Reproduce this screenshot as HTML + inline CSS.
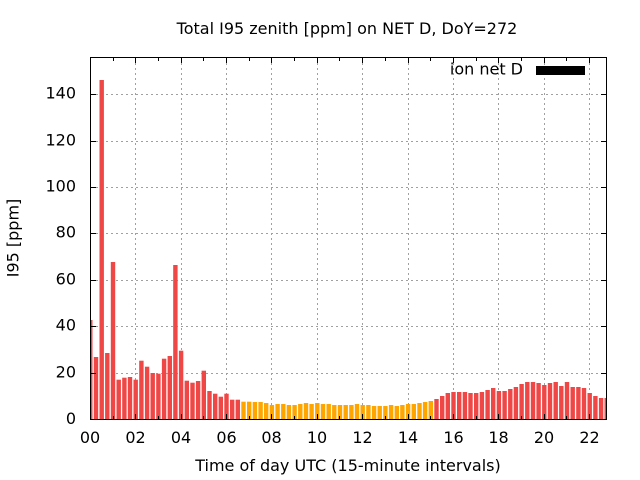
<!DOCTYPE html>
<html>
<head>
<meta charset="utf-8">
<style>
html,body{margin:0;padding:0;background:#fff;}
svg{display:block;}
text{font-family:"DejaVu Sans","Liberation Sans",sans-serif;font-size:16px;fill:#000;}
</style>
</head>
<body>
<svg width="640" height="480" viewBox="0 0 640 480" xmlns="http://www.w3.org/2000/svg">
<defs>
<clipPath id="pc"><rect x="91" y="57" width="515" height="363"/></clipPath>
</defs>
<rect width="640" height="480" fill="#fff"/>
<!-- grid -->
<g stroke="#a0a0a0" stroke-width="1" stroke-dasharray="2,3" fill="none">
<line x1="91" y1="373.5" x2="606" y2="373.5"/>
<line x1="91" y1="326.5" x2="606" y2="326.5"/>
<line x1="91" y1="280.5" x2="606" y2="280.5"/>
<line x1="91" y1="233.5" x2="606" y2="233.5"/>
<line x1="91" y1="187.5" x2="606" y2="187.5"/>
<line x1="91" y1="141.5" x2="606" y2="141.5"/>
<line x1="91" y1="94.5" x2="606" y2="94.5"/>
<line x1="135.5" y1="58" x2="135.5" y2="419"/>
<line x1="181.5" y1="58" x2="181.5" y2="419"/>
<line x1="226.5" y1="58" x2="226.5" y2="419"/>
<line x1="271.5" y1="58" x2="271.5" y2="419"/>
<line x1="317.5" y1="58" x2="317.5" y2="419"/>
<line x1="362.5" y1="58" x2="362.5" y2="419"/>
<line x1="408.5" y1="58" x2="408.5" y2="419"/>
<line x1="453.5" y1="58" x2="453.5" y2="419"/>
<line x1="498.5" y1="58" x2="498.5" y2="419"/>
<line x1="544.5" y1="58" x2="544.5" y2="419"/>
<line x1="589.5" y1="58" x2="589.5" y2="419"/>
</g>
<!-- bars -->
<g clip-path="url(#pc)">
<g fill="#ef4646">
<rect x="88.1" y="320" width="4.4" height="99.5"/>
<rect x="93.8" y="357" width="4.4" height="62.5"/>
<rect x="99.5" y="80" width="4.4" height="339.5"/>
<rect x="105.1" y="353" width="4.4" height="66.5"/>
<rect x="110.8" y="262" width="4.4" height="157.5"/>
<rect x="116.5" y="379.7" width="4.4" height="39.8"/>
<rect x="122.2" y="377.7" width="4.4" height="41.8"/>
<rect x="127.8" y="377" width="4.4" height="42.5"/>
<rect x="133.5" y="379.7" width="4.4" height="39.8"/>
<rect x="139.2" y="360.7" width="4.4" height="58.8"/>
<rect x="144.9" y="366.7" width="4.4" height="52.8"/>
<rect x="150.5" y="373" width="4.4" height="46.5"/>
<rect x="156.2" y="373.7" width="4.4" height="45.8"/>
<rect x="161.9" y="358.7" width="4.4" height="60.8"/>
<rect x="167.6" y="356" width="4.4" height="63.5"/>
<rect x="173.2" y="265" width="4.4" height="154.5"/>
<rect x="178.9" y="350.7" width="4.4" height="68.8"/>
<rect x="184.6" y="380.7" width="4.4" height="38.8"/>
<rect x="190.3" y="382.7" width="4.4" height="36.8"/>
<rect x="195.9" y="381" width="4.4" height="38.5"/>
<rect x="201.6" y="370.7" width="4.4" height="48.8"/>
<rect x="207.3" y="391" width="4.4" height="28.5"/>
<rect x="213.0" y="393.7" width="4.4" height="25.8"/>
<rect x="218.6" y="396.7" width="4.4" height="22.8"/>
<rect x="224.3" y="393.7" width="4.4" height="25.8"/>
<rect x="230.0" y="399.7" width="4.4" height="19.8"/>
<rect x="235.6" y="399.7" width="4.4" height="19.8"/>
<!-- red after orange -->
<rect x="434.3" y="399" width="4.4" height="20.5"/>
<rect x="440.0" y="396" width="4.4" height="23.5"/>
<rect x="445.6" y="393" width="4.4" height="26.5"/>
<rect x="451.3" y="392" width="4.4" height="27.5"/>
<rect x="457.0" y="392" width="4.4" height="27.5"/>
<rect x="462.7" y="392" width="4.4" height="27.5"/>
<rect x="468.3" y="393" width="4.4" height="26.5"/>
<rect x="474.0" y="393" width="4.4" height="26.5"/>
<rect x="479.7" y="392" width="4.4" height="27.5"/>
<rect x="485.4" y="390" width="4.4" height="29.5"/>
<rect x="491.0" y="388" width="4.4" height="31.5"/>
<rect x="496.7" y="391" width="4.4" height="28.5"/>
<rect x="502.4" y="391" width="4.4" height="28.5"/>
<rect x="508.1" y="389" width="4.4" height="30.5"/>
<rect x="513.7" y="387" width="4.4" height="32.5"/>
<rect x="519.4" y="384" width="4.4" height="35.5"/>
<rect x="525.1" y="382" width="4.4" height="37.5"/>
<rect x="530.8" y="382" width="4.4" height="37.5"/>
<rect x="536.4" y="383" width="4.4" height="36.5"/>
<rect x="542.1" y="385" width="4.4" height="34.5"/>
<rect x="547.8" y="383" width="4.4" height="36.5"/>
<rect x="553.5" y="382" width="4.4" height="37.5"/>
<rect x="559.1" y="386" width="4.4" height="33.5"/>
<rect x="564.8" y="382" width="4.4" height="37.5"/>
<rect x="570.5" y="387" width="4.4" height="32.5"/>
<rect x="576.2" y="387" width="4.4" height="32.5"/>
<rect x="581.8" y="388" width="4.4" height="31.5"/>
<rect x="587.5" y="393" width="4.4" height="26.5"/>
<rect x="593.2" y="396" width="4.4" height="23.5"/>
<rect x="598.9" y="398" width="4.4" height="21.5"/>
<rect x="604.5" y="398" width="4.4" height="21.5"/>
</g>
<g fill="#ffa500">
<rect x="241.3" y="401.7" width="4.4" height="17.8"/>
<rect x="247.0" y="401.7" width="4.4" height="17.8"/>
<rect x="252.7" y="402" width="4.4" height="17.5"/>
<rect x="258.4" y="402" width="4.4" height="17.5"/>
<rect x="264.0" y="403" width="4.4" height="16.5"/>
<rect x="269.7" y="405" width="4.4" height="14.5"/>
<rect x="275.4" y="404" width="4.4" height="15.5"/>
<rect x="281.1" y="404" width="4.4" height="15.5"/>
<rect x="286.7" y="405" width="4.4" height="14.5"/>
<rect x="292.4" y="405" width="4.4" height="14.5"/>
<rect x="298.1" y="404" width="4.4" height="15.5"/>
<rect x="303.8" y="403" width="4.4" height="16.5"/>
<rect x="309.4" y="404" width="4.4" height="15.5"/>
<rect x="315.1" y="403" width="4.4" height="16.5"/>
<rect x="320.8" y="404" width="4.4" height="15.5"/>
<rect x="326.5" y="404" width="4.4" height="15.5"/>
<rect x="332.1" y="405" width="4.4" height="14.5"/>
<rect x="337.8" y="405" width="4.4" height="14.5"/>
<rect x="343.5" y="405" width="4.4" height="14.5"/>
<rect x="349.2" y="405" width="4.4" height="14.5"/>
<rect x="354.8" y="404" width="4.4" height="15.5"/>
<rect x="360.5" y="405" width="4.4" height="14.5"/>
<rect x="366.2" y="405" width="4.4" height="14.5"/>
<rect x="371.9" y="406" width="4.4" height="13.5"/>
<rect x="377.5" y="406" width="4.4" height="13.5"/>
<rect x="383.2" y="406" width="4.4" height="13.5"/>
<rect x="388.9" y="405" width="4.4" height="14.5"/>
<rect x="394.6" y="406" width="4.4" height="13.5"/>
<rect x="400.2" y="405" width="4.4" height="14.5"/>
<rect x="405.9" y="404" width="4.4" height="15.5"/>
<rect x="411.6" y="404" width="4.4" height="15.5"/>
<rect x="417.3" y="403" width="4.4" height="16.5"/>
<rect x="422.9" y="402" width="4.4" height="17.5"/>
<rect x="428.6" y="401" width="4.4" height="18.5"/>
</g>
</g>
<!-- frame -->
<rect x="90.5" y="57.5" width="516" height="362" fill="none" stroke="#000" stroke-width="1"/>
<!-- ticks -->
<g stroke="#000" stroke-width="1">
<!-- y major left/right -->
<line x1="91" y1="373.5" x2="96" y2="373.5"/><line x1="601" y1="373.5" x2="606" y2="373.5"/>
<line x1="91" y1="326.5" x2="96" y2="326.5"/><line x1="601" y1="326.5" x2="606" y2="326.5"/>
<line x1="91" y1="280.5" x2="96" y2="280.5"/><line x1="601" y1="280.5" x2="606" y2="280.5"/>
<line x1="91" y1="233.5" x2="96" y2="233.5"/><line x1="601" y1="233.5" x2="606" y2="233.5"/>
<line x1="91" y1="187.5" x2="96" y2="187.5"/><line x1="601" y1="187.5" x2="606" y2="187.5"/>
<line x1="91" y1="141.5" x2="96" y2="141.5"/><line x1="601" y1="141.5" x2="606" y2="141.5"/>
<line x1="91" y1="94.5" x2="96" y2="94.5"/><line x1="601" y1="94.5" x2="606" y2="94.5"/>
<!-- x major bottom/top -->
<line x1="135.5" y1="419" x2="135.5" y2="414"/><line x1="135.5" y1="58" x2="135.5" y2="63"/>
<line x1="181.5" y1="419" x2="181.5" y2="414"/><line x1="181.5" y1="58" x2="181.5" y2="63"/>
<line x1="226.5" y1="419" x2="226.5" y2="414"/><line x1="226.5" y1="58" x2="226.5" y2="63"/>
<line x1="271.5" y1="419" x2="271.5" y2="414"/><line x1="271.5" y1="58" x2="271.5" y2="63"/>
<line x1="317.5" y1="419" x2="317.5" y2="414"/><line x1="317.5" y1="58" x2="317.5" y2="63"/>
<line x1="362.5" y1="419" x2="362.5" y2="414"/><line x1="362.5" y1="58" x2="362.5" y2="63"/>
<line x1="408.5" y1="419" x2="408.5" y2="414"/><line x1="408.5" y1="58" x2="408.5" y2="63"/>
<line x1="453.5" y1="419" x2="453.5" y2="414"/><line x1="453.5" y1="58" x2="453.5" y2="63"/>
<line x1="498.5" y1="419" x2="498.5" y2="414"/><line x1="498.5" y1="58" x2="498.5" y2="63"/>
<line x1="544.5" y1="419" x2="544.5" y2="414"/><line x1="544.5" y1="58" x2="544.5" y2="63"/>
<line x1="589.5" y1="419" x2="589.5" y2="414"/><line x1="589.5" y1="58" x2="589.5" y2="63"/>
<!-- x minor (odd hours) -->
<line x1="113.5" y1="58" x2="113.5" y2="61"/><line x1="113.5" y1="419" x2="113.5" y2="416"/>
<line x1="158.5" y1="58" x2="158.5" y2="61"/><line x1="158.5" y1="419" x2="158.5" y2="416"/>
<line x1="203.5" y1="58" x2="203.5" y2="61"/><line x1="203.5" y1="419" x2="203.5" y2="416"/>
<line x1="249.5" y1="58" x2="249.5" y2="61"/><line x1="249.5" y1="419" x2="249.5" y2="416"/>
<line x1="294.5" y1="58" x2="294.5" y2="61"/><line x1="294.5" y1="419" x2="294.5" y2="416"/>
<line x1="339.5" y1="58" x2="339.5" y2="61"/><line x1="339.5" y1="419" x2="339.5" y2="416"/>
<line x1="385.5" y1="58" x2="385.5" y2="61"/><line x1="385.5" y1="419" x2="385.5" y2="416"/>
<line x1="430.5" y1="58" x2="430.5" y2="61"/><line x1="430.5" y1="419" x2="430.5" y2="416"/>
<line x1="476.5" y1="58" x2="476.5" y2="61"/><line x1="476.5" y1="419" x2="476.5" y2="416"/>
<line x1="521.5" y1="58" x2="521.5" y2="61"/><line x1="521.5" y1="419" x2="521.5" y2="416"/>
<line x1="566.5" y1="58" x2="566.5" y2="61"/><line x1="566.5" y1="419" x2="566.5" y2="416"/>
</g>
<!-- y tick labels -->
<g text-anchor="end">
<text x="76" y="424">0</text>
<text x="76" y="377.5">20</text>
<text x="76" y="330.5">40</text>
<text x="76" y="284.5">60</text>
<text x="76" y="237.5">80</text>
<text x="76" y="191.5">100</text>
<text x="76" y="145.5">120</text>
<text x="76" y="98.5">140</text>
</g>
<!-- x tick labels -->
<g text-anchor="middle">
<text x="90" y="443">00</text>
<text x="135.5" y="443">02</text>
<text x="181" y="443">04</text>
<text x="226.5" y="443">06</text>
<text x="271.5" y="443">08</text>
<text x="317" y="443">10</text>
<text x="362.5" y="443">12</text>
<text x="408" y="443">14</text>
<text x="453.5" y="443">16</text>
<text x="498.5" y="443">18</text>
<text x="544" y="443">20</text>
<text x="589.5" y="443">22</text>
</g>
<!-- titles -->
<text x="347" y="34" text-anchor="middle">Total I95 zenith [ppm] on NET D, DoY=272</text>
<text x="348" y="471" text-anchor="middle">Time of day UTC (15-minute intervals)</text>
<text transform="translate(18.5,238) rotate(-90)" text-anchor="middle">I95 [ppm]</text>
<!-- legend -->
<text x="523" y="74.5" text-anchor="end">ion net D</text>
<rect x="536" y="66" width="49" height="9" fill="#000"/>
</svg>
</body>
</html>
